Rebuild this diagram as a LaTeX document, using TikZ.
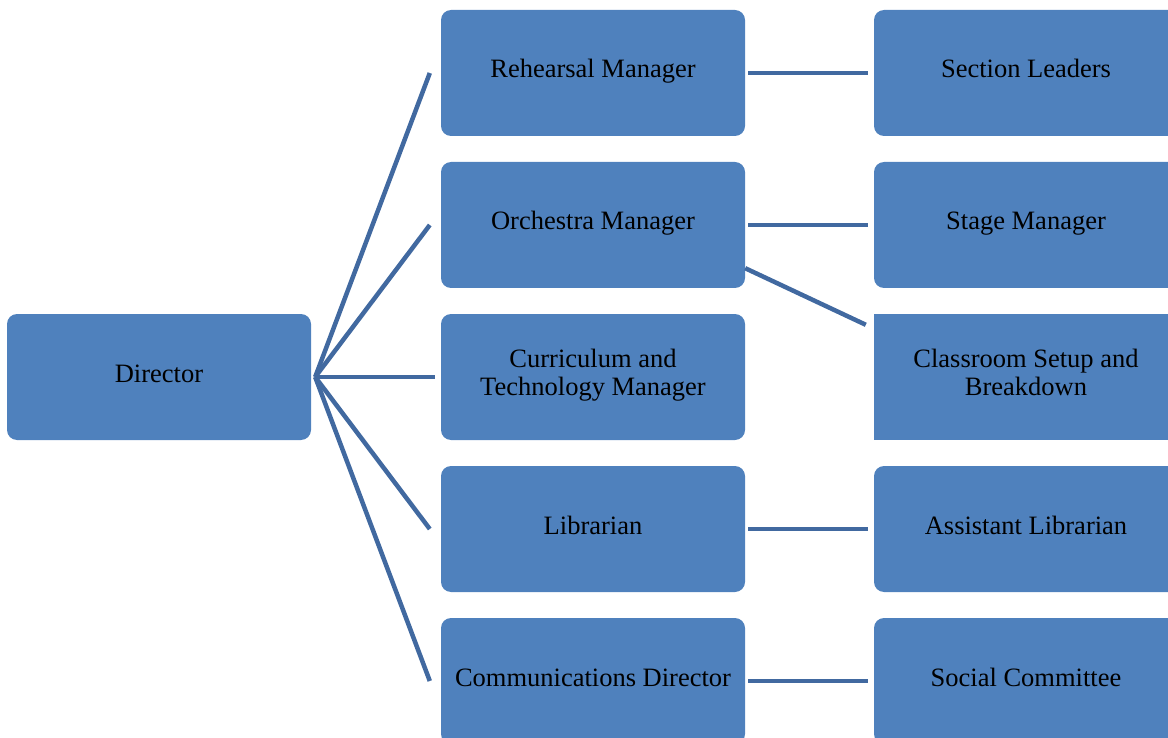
\documentclass[tikz,border=0pt]{standalone}
\usepackage{fontspec}
\setmainfont{Liberation Serif}
\definecolor{boxblue}{RGB}{79,129,189}
\definecolor{linkblue}{RGB}{65,105,160}
\tikzset{
	orgbox/.style={fill=boxblue, rounded corners=10pt, minimum width=304pt, minimum height=126pt, inner sep=0pt, align=center, text height=18pt, text depth=8pt, font=\fontsize{26.5}{27.5}\selectfont},
	twoline/.style={text height=46pt, text depth=10pt},
	link/.style={draw=linkblue, line width=4.5pt}
}

\begin{document}
\begin{tikzpicture}[x=1pt,y=-1pt]
		\useasboundingbox (0,0) rectangle (1168,738);
		\clip (0,0) rectangle (1168,738);
		% boxes
		\node[orgbox] (director) at (159,377) {Director};
		\node[orgbox] (rehearsal) at (593,73) {Rehearsal Manager};
		\node[orgbox] (orchestra) at (593,225) {Orchestra Manager};
		\node[orgbox, twoline] (curriculum) at (593,377) {Curriculum and\\Technology Manager};
		\node[orgbox] (librarian) at (593,529) {Librarian};
		\node[orgbox] (comms) at (593,681) {Communications Director};
		\node[orgbox] (leaders) at (1026,73) {Section Leaders};
		\node[orgbox] (stage) at (1026,225) {Stage Manager};
		\node[orgbox, twoline, sharp corners] (classroom) at (1026,377) {Classroom Setup and\\Breakdown};
		\node[orgbox] (assistant) at (1026,529) {Assistant Librarian};
		\node[orgbox] (social) at (1026,681) {Social Committee};
		% connectors
		\coordinate (hub) at ([xshift=4pt]director.east);
		\draw[link] (hub) -- ([xshift=-11pt]rehearsal.west);
		\draw[link] (hub) -- ([xshift=-11pt]orchestra.west);
		\draw[link] (hub) -- ([xshift=-6pt]curriculum.west);
		\draw[link] (hub) -- ([xshift=-11pt]librarian.west);
		\draw[link] (hub) -- ([xshift=-11pt]comms.west);
		\draw[link] ([xshift=3pt]rehearsal.east) -- ([xshift=-6pt]leaders.west);
		\draw[link] ([xshift=3pt]orchestra.east) -- ([xshift=-6pt]stage.west);
		\draw[link] ([yshift=20pt]orchestra.south east) -- ([xshift=-8pt,yshift=-11pt]classroom.north west);
		\draw[link] ([xshift=3pt]librarian.east) -- ([xshift=-6pt]assistant.west);
		\draw[link] ([xshift=3pt]comms.east) -- ([xshift=-6pt]social.west);
	\end{tikzpicture}
\end{document}
